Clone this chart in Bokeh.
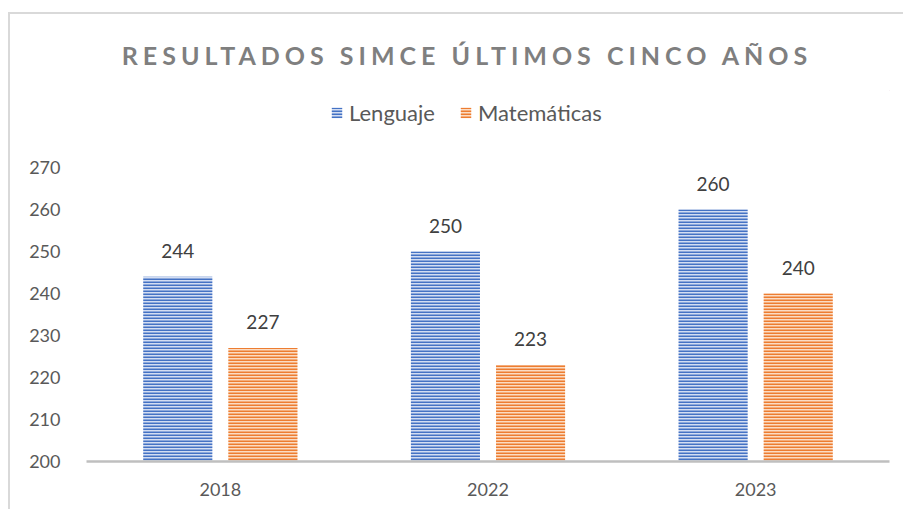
from bokeh.plotting import figure
from bokeh.models import (Div, Legend, LegendItem, ColumnDataSource, LabelSet,
                          FixedTicker, Range1d)
from bokeh.layouts import column
from bokeh.transform import dodge
from bokeh.embed import file_html
from bokeh.resources import INLINE
from bokeh.core.properties import value

# ---- data ----
years = ["2018", "2022", "2023"]
lenguaje = [244, 250, 260]
matematicas = [227, 223, 240]
series_names = ["Lenguaje", "Matemáticas"]
y_ticks = [200, 210, 220, 230, 240, 250, 260, 270]
title_text = "RESULTADOS SIMCE ÚLTIMOS CINCO AÑOS"

FONT = "Lato"
W = 893
STYLE = [
    dict(fill_color="#d3ddf2", line_color=None, hatch_pattern="horizontal_line",
         hatch_color="#4472C4", hatch_scale=3, hatch_weight=2),
    dict(fill_color="#fbdcc4", line_color=None, hatch_pattern="horizontal_line",
         hatch_color="#ED7D31", hatch_scale=3, hatch_weight=2),
]

xs = list(range(len(years)))
src = ColumnDataSource(dict(
    x=xs,
    leng=lenguaje,
    mat=matematicas,
    leng_lbl=[str(v) for v in lenguaje],
    mat_lbl=[str(v) for v in matematicas],
))

# ---- main chart ----
p = figure(
    x_range=Range1d(-0.5, len(years) - 0.5),
    y_range=(y_ticks[0], y_ticks[-1]),
    width=W, height=373,
    output_backend="svg", toolbar_location=None,
    min_border_left=76, min_border_right=14,
    min_border_top=31, min_border_bottom=48,
)
p.outline_line_color = None
p.xgrid.grid_line_color = None
p.ygrid.grid_line_color = None
p.background_fill_color = "white"
p.border_fill_color = "white"

off = 0.159
bw = 0.258
p.vbar(x=dodge("x", -off), top="leng", bottom=y_ticks[0], width=bw, source=src, **STYLE[0])
p.vbar(x=dodge("x", off), top="mat", bottom=y_ticks[0], width=bw, source=src, **STYLE[1])

for col, o in (("leng", -off), ("mat", off)):
    p.add_layout(LabelSet(x=dodge("x", o), y=col, text=col + "_lbl", source=src,
                          y_offset=19, text_align="center", text_baseline="alphabetic",
                          text_font=value(FONT), text_font_size="19px", text_color="#404040"))

p.yaxis.ticker = FixedTicker(ticks=y_ticks)
p.yaxis.axis_line_color = None
p.yaxis.major_tick_line_color = None
p.yaxis.minor_tick_line_color = None
p.yaxis.major_label_standoff = 20
p.yaxis.major_label_text_font = FONT
p.yaxis.major_label_text_font_size = "18px"
p.yaxis.major_label_text_color = "#595959"

xax = p.below[0]
xax.ticker = FixedTicker(ticks=xs)
xax.major_label_overrides = {i: y for i, y in zip(xs, years)}
xax.axis_line_color = "#bfbfbf"
xax.axis_line_width = 2.5
xax.major_tick_line_color = None
xax.minor_tick_line_color = None
xax.major_label_standoff = 15
xax.major_label_text_font = FONT
xax.major_label_text_font_size = "18px"
xax.major_label_text_color = "#595959"

# ---- legend strip (same series, drawn outside this strip's view; only the legend shows) ----
lg = figure(width=W, height=46, output_backend="svg", toolbar_location=None,
            x_range=Range1d(-100, -99), y_range=Range1d(-100, -99),
            x_axis_location=None, y_axis_location=None,
            min_border_left=0, min_border_right=0, min_border_top=0, min_border_bottom=0)
lg.outline_line_color = None
lg.xgrid.grid_line_color = None
lg.ygrid.grid_line_color = None
lg.border_fill_color = "white"
g1 = lg.vbar(x="x", top="leng", width=bw, source=src, **STYLE[0])
g2 = lg.vbar(x="x", top="mat", width=bw, source=src, **STYLE[1])
legend = Legend(items=[LegendItem(label=series_names[0], renderers=[g1]),
                       LegendItem(label=series_names[1], renderers=[g2])],
                orientation="horizontal", location=(244, 10),
                glyph_width=13, glyph_height=13, label_standoff=6, spacing=24,
                padding=0, margin=0, border_line_color=None, background_fill_alpha=0,
                label_text_font=FONT, label_text_font_size="22px", label_text_color="#595959")
lg.add_layout(legend, "center")

title = Div(text=title_text, width=W, height=76, margin=0,
            styles={"text-align": "center", "font-family": FONT, "font-weight": "bold",
                    "font-size": "25px", "letter-spacing": "5px", "color": "#7f7f7f",
                    "line-height": "82px", "text-indent": "21px", "white-space": "nowrap"})

layout = column(title, lg, p, spacing=0,
                styles={"border-left": "2px solid #d9d9d9", "border-top": "2px solid #d9d9d9",
                        "margin-top": "12px", "margin-left": "8px"})

open("out.html", "w").write(file_html(layout, INLINE))
